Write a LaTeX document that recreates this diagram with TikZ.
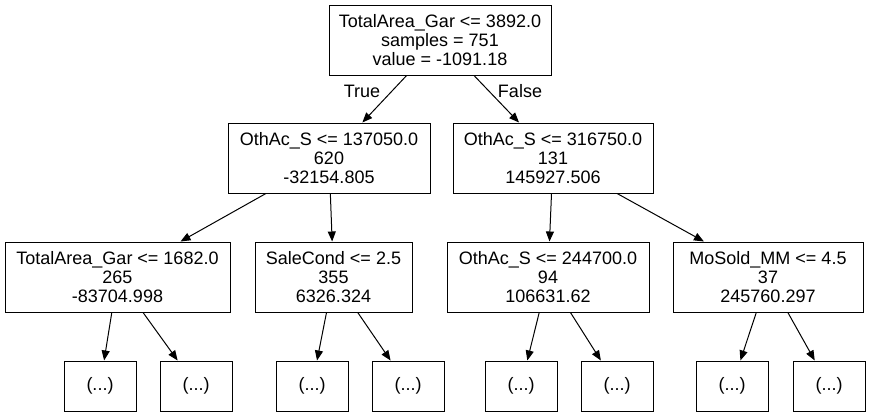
\documentclass[tikz,border=0pt]{standalone}
\usepackage{fontspec}
\setmainfont{Liberation Sans}
\usetikzlibrary{arrows.meta}

\begin{document}
\begin{tikzpicture}[
        x=1pt, y=-1pt,
        every node/.style={font=\fontsize{18}{18.6}\selectfont},
        splitnode/.style={draw, line width=1pt, align=center, inner xsep=3pt, inner ysep=2pt, minimum height=70pt},
        leafnode/.style={draw, line width=1pt, minimum width=72pt, minimum height=50pt},
        treeedge/.style={line width=1pt, -{Triangle[length=10pt, width=8pt]}},
        edgelabel/.style={align=center}
    ]
        \useasboundingbox (0, 0) rectangle (870, 415);

        % root
        \node[splitnode, minimum width=222pt] (root) at (440, 40) {TotalArea\_Gar <= 3892.0\\samples = 751\\value = -1091.18};

        % first split
        \node[splitnode, minimum width=202pt] (left) at (329, 158) {OthAc\_S <= 137050.0\\620\\-32154.805};
        \node[splitnode, minimum width=200pt] (right) at (553, 158) {OthAc\_S <= 316750.0\\131\\145927.506};

        % second split
        \node[splitnode, minimum width=225pt] (ll) at (117.5, 277) {TotalArea\_Gar <= 1682.0\\265\\-83704.998};
        \node[splitnode, minimum width=157pt] (lr) at (333.5, 277) {SaleCond <= 2.5\\355\\6326.324};
        \node[splitnode, minimum width=202pt] (rl) at (548, 277) {OthAc\_S <= 244700.0\\94\\106631.62};
        \node[splitnode, minimum width=190pt] (rr) at (768, 277) {MoSold\_MM <= 4.5\\37\\245760.297};

        % truncated leaves
        \foreach \name/\x in {leafa/100, leafb/196, leafc/312, leafd/408, leafe/521, leaff/617, leafg/732, leafh/829}{
            \node[leafnode] (\name) at (\x, 386) {(...)};
        }

        % edges
        \draw[treeedge] (root) -- (left);
        \draw[treeedge] (root) -- (right);
        \draw[treeedge] (left) -- (ll);
        \draw[treeedge] (left) -- (lr);
        \draw[treeedge] (right) -- (rl);
        \draw[treeedge] (right) -- (rr);
        \foreach \parent/\child in {ll/leafa, ll/leafb, lr/leafc, lr/leafd, rl/leafe, rl/leaff, rr/leafg, rr/leafh}{
            \draw[treeedge] (\parent) -- (\child);
        }

        % edge labels
        \node[edgelabel] (truelabel) at (362, 91) {True};
        \node[edgelabel] (falselabel) at (520, 91) {False};

\end{tikzpicture}
\end{document}
